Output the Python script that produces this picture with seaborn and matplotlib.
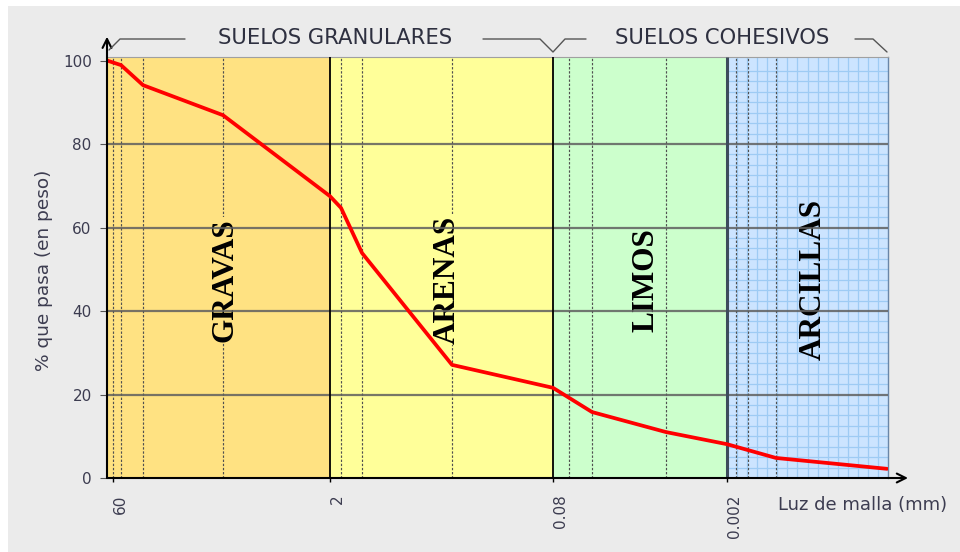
import numpy as np
import pandas as pd
import matplotlib
matplotlib.use("Agg")
import matplotlib.pyplot as plt
import seaborn as sns
from matplotlib.patches import Rectangle
from matplotlib.lines import Line2D
from matplotlib.transforms import ScaledTranslation

# ---------------- data ----------------
# position along the (non-uniform) grain-size axis, in axis units (0 = origin)
curva_pos = [0, 14, 36, 116, 223, 234, 255, 345, 446, 485, 559, 620, 669, 780]
curva_pct = [100, 98.9, 94.1, 86.9, 67.5, 64.7, 53.9, 27.1, 21.6, 15.8, 11.0, 8.1, 4.8, 2.2]

tamices_pos = [6, 14, 36, 116, 234, 255, 345, 462, 485, 559, 629, 641, 669]

limites = [0, 223, 446, 620, 781]
zonas = ["GRAVAS", "ARENAS", "LIMOS", "ARCILLAS"]
colores_zonas = ["#FFE282", "#FFFF99", "#CCFFCC", "#CCE4FF"]

xtick_pos = [6, 223, 446, 620]
xtick_lab = ["60", "2", "0.08", "0.002"]
ytick_vals = [0, 20, 40, 60, 80, 100]

grupos = ["SUELOS GRANULARES", "SUELOS COHESIVOS"]

# ---------------- figure ----------------
sns.set_style("white")
plt.rcParams["font.family"] = ["DejaVu Sans"]

W, H = 960, 552
fig = plt.figure(figsize=(W / 100, H / 100), dpi=100)
fig.patch.set_facecolor("white")
fig.patches.append(Rectangle((8 / W, 0), 1, 1 - 6 / H, transform=fig.transFigure,
                             facecolor="#ebebeb", edgecolor="none", zorder=-10))

def fx(x):
    return x / W

def fy(y):
    return 1 - y / H

ax = fig.add_axes([107 / W, 74 / H, 781 / W, 421 / H])
ymax = 100.84
ax.set_xlim(limites[0], limites[-1])
ax.set_ylim(0, ymax)

# colored zones
for lo, hi, c in zip(limites[:-1], limites[1:], colores_zonas):
    ax.axvspan(lo, hi, color=c, zorder=0, lw=0)

# fine grid in clay zone
xs = np.linspace(limites[3], limites[4], 17)[1:-1]
ax.vlines(xs, 0, ymax, colors="#9ecbf4", lw=0.9, zorder=0.5)
ys = [v for v in np.arange(2.5, ymax, 2.5) if v % 20 != 0]
ax.hlines(ys, limites[3], limites[4], colors="#9ecbf4", lw=0.9, zorder=0.5)

# sieve dashed lines
ax.vlines(tamices_pos, 0, ymax, colors="#505050", linestyles=[(0, (2.0, 1.5))], lw=0.85, zorder=1)

# zone labels
off = ScaledTranslation(6 / 100, 0, fig.dpi_scale_trans)
for i, (lo, hi, name, c) in enumerate(zip(limites[:-1], limites[1:], zonas, colores_zonas)):
    bb = dict(facecolor=c, edgecolor="none", pad=1) if i < 2 else None
    ax.text((lo + hi) / 2, 47.5, name, rotation=90, ha="center", va="center",
            fontsize=22.5, fontweight="bold", family="Liberation Serif", color="black",
            transform=ax.transData + off, zorder=2, bbox=bb)

# horizontal major grid
ax.hlines([20, 40, 60, 80], limites[0], limites[-1], colors="#5f5f5f", lw=1.6, alpha=0.85, zorder=3)

# zone boundaries
ax.vlines(limites[1:3], 0, ymax, colors="black", lw=1.3, zorder=3)
ax.vlines([limites[3]], 0, ymax, colors="#3d4b5c", lw=2.2, zorder=3)

# curve
df = pd.DataFrame({"pos": curva_pos, "pct": curva_pct})
sns.lineplot(data=df, x="pos", y="pct", color="#FF0000", lw=2.7, ax=ax, zorder=5)

# spines / axes
for s in ["left", "bottom"]:
    ax.spines[s].set_visible(False)
ax.spines["top"].set_color("#a0a0a0")
ax.spines["top"].set_linewidth(0.8)
ax.spines["right"].set_color("#6a86a8")
ax.spines["right"].set_linewidth(1.0)

ax.annotate("", xy=(0, 105.7), xytext=(0, 0), xycoords="data",
            arrowprops=dict(arrowstyle="->", lw=1.5, color="black", mutation_scale=16,
                            shrinkA=0, shrinkB=0), annotation_clip=False, zorder=6)
ax.annotate("", xy=(801, 0), xytext=(0, 0), xycoords="data",
            arrowprops=dict(arrowstyle="->", lw=1.5, color="black", mutation_scale=16,
                            shrinkA=0, shrinkB=0), annotation_clip=False, zorder=6)

tick_color = "#3c3c50"
ax.set_yticks(ytick_vals)
ax.set_yticklabels([str(v) for v in ytick_vals])
ax.tick_params(axis="y", left=True, length=5, width=0.8, color="#555555", pad=6,
               labelsize=11, labelcolor=tick_color)
ax.set_xticks(xtick_pos)
ax.set_xticklabels(xtick_lab, rotation=90, va="top", ha="center")
ax.tick_params(axis="x", bottom=True, length=3, width=1, color="black", pad=9,
               labelsize=11, labelcolor=tick_color)
xoff = ScaledTranslation(7 / 100, 0, fig.dpi_scale_trans)
for lab in ax.get_xticklabels():
    lab.set_transform(lab.get_transform() + xoff)
ax.set_xlabel("")
ax.set_ylabel("")

fig.text(fx(44), fy(270), "% que pasa (en peso)", rotation=90, ha="center", va="center",
         fontsize=13.3, color=tick_color)
fig.text(fx(778), fy(505), "Luz de malla (mm)", ha="left", va="center",
         fontsize=13, color=tick_color)

# group headers with bracket lines
fig.text(fx(335), fy(38), grupos[0], ha="center", va="center", fontsize=15.2, color="#2e3040")
fig.text(fx(722), fy(38), grupos[1], ha="center", va="center", fontsize=15.2, color="#2e3040")
for pts in [[(109, 50), (120, 39), (185, 39)],
            [(483, 39), (540, 39), (553, 52), (565, 39), (586, 39)],
            [(855, 39), (873, 39), (887, 52)]]:
    xx = [fx(p[0]) for p in pts]
    yy = [fy(p[1]) for p in pts]
    fig.add_artist(Line2D(xx, yy, transform=fig.transFigure, color="#555555", lw=1.0))

fig.savefig("out.png", dpi=100)
